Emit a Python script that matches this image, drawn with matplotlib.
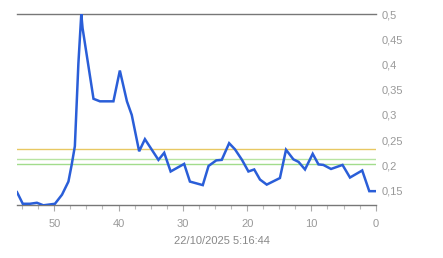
import numpy as np
import matplotlib
matplotlib.use('Agg')
import matplotlib.pyplot as plt
from matplotlib.ticker import FuncFormatter, MultipleLocator

# minutes ago / valeur mesuree
minutes_ago = [55.8, 54.9, 53.8, 52.7, 51.7, 49.9, 48.8, 47.8, 47.3, 46.8,
               46.25, 45.8, 45.6, 43.9, 42.9, 40.8, 39.8, 38.7, 37.95, 36.8,
               35.9, 33.8, 32.9, 31.9, 29.8, 28.9, 26.9, 26.0, 24.8, 23.95,
               22.8, 21.9, 20.8, 19.8, 18.9, 18.0, 16.95, 14.9, 13.95, 12.8,
               12.0, 11.0, 9.8, 8.9, 8.15, 6.95, 5.16, 4.0, 2.1, 1.0, 0.0]
values = [0.147, 0.124, 0.124, 0.126, 0.121, 0.124, 0.142, 0.168, 0.201, 0.238,
          0.402, 0.500, 0.472, 0.332, 0.327, 0.327, 0.388, 0.327, 0.300, 0.228,
          0.252, 0.211, 0.225, 0.188, 0.203, 0.168, 0.161, 0.199, 0.210, 0.211,
          0.244, 0.232, 0.211, 0.188, 0.192, 0.172, 0.162, 0.175, 0.231, 0.212,
          0.207, 0.192, 0.223, 0.202, 0.201, 0.193, 0.201, 0.176, 0.190, 0.149, 0.149]

# seuils
seuils = [0.232, 0.213, 0.202]
couleurs_seuils = ['#e8c862', '#b8e4a2', '#a2dc8c']

date_label = '22/10/2025 5:16:44'

plt.rcParams['font.family'] = ['Liberation Sans', 'DejaVu Sans']

W, H = 443, 258
fig = plt.figure(figsize=(W / 100, H / 100), dpi=100)
ax = fig.add_axes([17 / W, 52.7 / H, 358.7 / W, 191.3 / H])

for s, c in zip(seuils, couleurs_seuils):
    ax.axhline(s, color=c, linewidth=1.0, zorder=1)

ax.plot(minutes_ago, values, color='#2a5ed8', linewidth=1.8, zorder=3,
        solid_joinstyle='miter')

ax.set_xlim(max(minutes_ago), 0)
ax.set_ylim(min(values), 0.5)

# axes
for side in ['left', 'right']:
    ax.spines[side].set_visible(False)
ax.spines['top'].set_color('#777777')
ax.spines['bottom'].set_color('#777777')
ax.spines['top'].set_linewidth(1.0)
ax.spines['bottom'].set_linewidth(1.0)

ax.yaxis.tick_right()
ax.set_yticks(np.arange(0.15, 0.501, 0.05))
ax.yaxis.set_major_formatter(FuncFormatter(lambda v, p: ('%g' % round(v, 2)).replace('.', ',')))
ax.tick_params(axis='y', length=0, pad=4, labelsize=8, labelcolor='#999999')
for lbl in ax.get_yticklabels():
    lbl.set_y(lbl.get_position()[1])

ax.xaxis.set_major_locator(MultipleLocator(10))
ax.xaxis.set_minor_locator(MultipleLocator(2.5))
ax.tick_params(axis='x', which='major', length=4, width=0.8, color='#aaaaaa',
               pad=6, labelsize=8, labelcolor='#999999')
ax.tick_params(axis='x', which='minor', length=3, width=0.8, color='#bbbbbb')
ax.xaxis.set_major_formatter(FuncFormatter(lambda v, p: '%d' % v))

fig.text(0.5, 1 - 240.7 / H, date_label, ha='center', va='center',
         fontsize=8, color='#888888')

fig.savefig('out.png', dpi=100)
